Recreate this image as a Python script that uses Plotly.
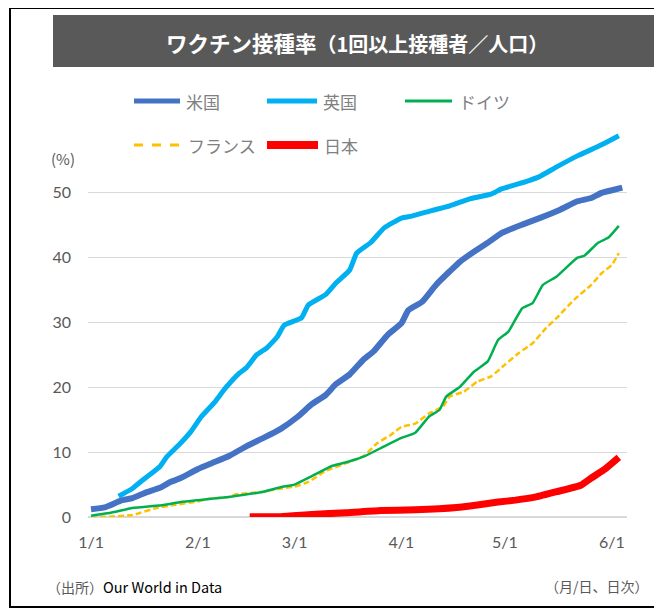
import datetime as dt
import plotly.graph_objects as go

# ---------------- data (day offset from 2021-01-01, % of population with >=1 dose) ----
us_days = [0, 4, 9, 12, 16, 20, 23, 26, 31, 35, 40, 45, 50, 55, 60, 64, 68, 71, 75, 79,
           82, 86, 90, 92, 96, 100, 104, 107, 111, 115, 119, 125, 130, 136, 141, 145, 148, 151, 154]
us_vals = [1.2, 1.5, 2.6, 2.9, 3.8, 4.5, 5.4, 6.0, 7.4, 8.3, 9.4, 10.9, 12.2, 13.6, 15.5, 17.4,
           18.8, 20.5, 22.0, 24.3, 25.6, 28.1, 29.9, 31.9, 33.2, 35.8, 37.9, 39.4, 40.9, 42.3,
           43.8, 45.1, 46.1, 47.4, 48.7, 49.2, 50.0, 50.4, 50.8]

uk_days = [8, 12, 15, 20, 22, 26, 29, 32, 36, 39, 43, 45, 48, 51, 54, 56, 61, 63, 68, 71, 75,
           77, 81, 85, 90, 93, 99, 104, 110, 116, 119, 127, 130, 135, 141, 148, 153]
uk_vals = [3.2, 4.4, 5.7, 7.8, 9.3, 11.4, 13.2, 15.5, 17.8, 19.9, 22.2, 23.0, 25.0, 26.1, 27.8,
           29.6, 30.7, 32.7, 34.3, 36.1, 38.1, 40.7, 42.3, 44.6, 46.1, 46.4, 47.3, 48.0, 49.1,
           49.8, 50.6, 51.9, 52.5, 54.0, 55.7, 57.4, 58.8]

de_days = [0, 6, 12, 21, 26, 31, 40, 50, 55, 59, 64, 70, 75, 79, 85, 90, 94, 98, 101, 103, 107,
           111, 115, 118, 121, 125, 128, 131, 135, 141, 143, 147, 150, 153]
de_vals = [0.2, 0.7, 1.4, 1.85, 2.3, 2.6, 3.1, 3.9, 4.6, 5.0, 6.3, 7.9, 8.6, 9.3, 10.9, 12.2,
           13.0, 15.5, 16.5, 18.6, 20.1, 22.4, 24.0, 27.3, 28.6, 32.2, 33.0, 35.8, 37.1, 40.0,
           40.3, 42.3, 43.1, 44.9]

fr_days = [0, 5, 12, 19, 24, 31, 34, 40, 42, 50, 55, 59, 63, 68, 74, 79, 83, 87, 90, 94, 98,
           102, 104, 108, 112, 116, 120, 124, 128, 132, 135, 140, 145, 148, 151, 153]
fr_vals = [0.0, 0.05, 0.3, 1.4, 1.85, 2.4, 2.8, 3.1, 3.5, 3.9, 4.4, 4.7, 5.4, 7.1, 8.3, 9.4,
           11.4, 12.7, 13.9, 14.4, 16.0, 17.0, 18.6, 19.3, 20.9, 21.7, 23.5, 25.3, 26.8, 29.2,
           30.7, 33.5, 35.8, 37.6, 38.9, 40.7]

jp_days = [46, 55, 64, 74, 84, 94, 106, 112, 118, 123, 129, 135, 142, 145, 149, 153]
jp_vals = [0.05, 0.05, 0.4, 0.65, 1.0, 1.1, 1.45, 1.85, 2.3, 2.6, 3.1, 3.9, 4.9, 6.0, 7.4, 9.2]

x_tick_dates = ["2021-01-01", "2021-02-01", "2021-03-01", "2021-04-01", "2021-05-01", "2021-06-01"]
x_tick_labels = ["1/1", "2/1", "3/1", "4/1", "5/1", "6/1"]
y_tick_vals = [0, 10, 20, 30, 40, 50]

series_names = ["米国", "英国", "ドイツ", "フランス", "日本"]

title_main = "ワクチン接種率"
title_sub = "（1回以上接種者／人口）"
source_label = "（出所）"
source_name = "Our World in Data"
unit_note = "（月/日、日次）"
y_unit = "(%)"

# ---------------- helpers --------------------------------------------------------------
BASE = dt.date(2021, 1, 1)


def to_dates(days):
    return [(BASE + dt.timedelta(days=d)).isoformat() for d in days]


# the page body has an 8px default margin: work in window pixels and shift
OFF = 8
W, H = 662 - OFF, 612 - OFF
PL, PR, PT, PB = 88, 627, 128, 517          # plot area in window pixels
ML, MR, MT, MB = PL - OFF, W - (PR - OFF), PT - OFF, H - (PB - OFF)
PW, PH = W - ML - MR, H - MT - MB


def px(x):
    return (x - PL) / PW


def py(y):
    return (PB - y) / PH


JP = "Noto Sans CJK JP"
NUM = "Lato, Noto Sans CJK JP"

fig = go.Figure()

styles = [
    dict(color="#4472C4", width=6, dash="solid"),
    dict(color="#00B0F0", width=5, dash="solid"),
    dict(color="#00B050", width=2.5, dash="solid"),
    dict(color="#FFC000", width=2.5, dash="6px,3px"),
    dict(color="#FF0000", width=7, dash="solid"),
]
series = [(us_days, us_vals), (uk_days, uk_vals), (de_days, de_vals),
          (fr_days, fr_vals), (jp_days, jp_vals)]
order = [3, 2, 0, 1, 4]
for i in order:
    d, v = series[i]
    st = styles[i]
    fig.add_trace(go.Scatter(
        x=to_dates(d), y=v, mode="lines", name=series_names[i],
        line=dict(color=st["color"], width=st["width"], dash=st["dash"],
                  shape="spline", smoothing=0.4),
        showlegend=False, hoverinfo="skip",
    ))

shapes = []
annotations = []

# outer frame
shapes.append(dict(type="rect", xref="paper", yref="paper",
                   x0=px(10), x1=px(667), y0=py(607), y1=py(8),
                   line=dict(color="#000000", width=2), fillcolor="rgba(0,0,0,0)",
                   layer="below"))
# title box
shapes.append(dict(type="rect", xref="paper", yref="paper",
                   x0=px(53), x1=px(660), y0=py(67), y1=py(15),
                   line=dict(width=0), fillcolor="#595959", layer="below"))
annotations.append(dict(
    xref="paper", yref="paper", x=px(357), y=py(42), xanchor="center", yanchor="middle",
    text=f"<b>{title_main}</b><span style='font-size:20px'><b>{title_sub}</b></span>",
    showarrow=False, font=dict(family=JP, size=21.5, color="#FFFFFF")))

# manual legend
legend_items = [
    (0, 134, 180, 101, 184),
    (1, 267, 317, 101, 321),
    (2, 405, 452, 101, 457),
    (3, 134, 180, 145, 186),
    (4, 267, 318, 145, 322),
]
leg_w = {0: 5, 1: 5, 2: 3, 3: 3, 4: 8}
for idx, x0, x1, yy, tx in legend_items:
    st = styles[idx]
    dash = "dash" if idx == 3 else "solid"
    shapes.append(dict(type="line", xref="paper", yref="paper",
                       x0=px(x0), x1=px(x1), y0=py(yy), y1=py(yy),
                       line=dict(color=st["color"], width=leg_w[idx], dash=dash)))
    annotations.append(dict(xref="paper", yref="paper", x=px(tx), y=py(yy),
                            xanchor="left", yanchor="middle", text=series_names[idx],
                            showarrow=False,
                            font=dict(family=JP, size=17, color="#808080")))

# y unit
annotations.append(dict(xref="paper", yref="paper", x=px(63), y=py(158),
                        xanchor="center", yanchor="middle", text=y_unit, showarrow=False,
                        font=dict(family=JP, size=15, color="#595959")))
# source
annotations.append(dict(xref="paper", yref="paper", x=px(45), y=py(586),
                        xanchor="left", yanchor="middle",
                        text=f"{source_label}<span style='color:#000000;font-size:14.5px'>{source_name}</span>",
                        showarrow=False,
                        font=dict(family=JP, size=14, color="#595959")))
annotations.append(dict(xref="paper", yref="paper", x=px(651), y=py(586),
                        xanchor="right", yanchor="middle", text=unit_note, showarrow=False,
                        font=dict(family=JP, size=14, color="#595959")))

fig.update_layout(
    width=W, height=H,
    margin=dict(l=ML, r=MR, t=MT, b=MB, pad=0),
    paper_bgcolor="#FFFFFF", plot_bgcolor="#FFFFFF",
    shapes=shapes, annotations=annotations,
    showlegend=False,
    xaxis=dict(type="date", range=["2020-12-31 03:00", "2021-06-05 09:00"],
               tickvals=x_tick_dates, ticktext=x_tick_labels,
               showgrid=False, zeroline=False, showline=False, ticks="",
               ticklabelstandoff=14,
               tickfont=dict(family=NUM, size=16, color="#595959")),
    yaxis=dict(range=[0, 60], tickvals=y_tick_vals, showgrid=True,
               gridcolor="#D9D9D9", gridwidth=1,
               zeroline=True, zerolinecolor="#D9D9D9", zerolinewidth=2,
               showline=False, ticks="", ticklabelstandoff=16,
               tickfont=dict(family=NUM, size=16, color="#595959")),
)

fig.write_html("out.html")
